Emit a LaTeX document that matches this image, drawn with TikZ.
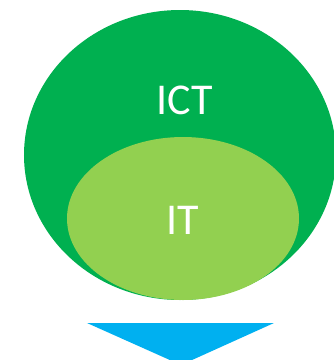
\documentclass[tikz,border=0pt]{standalone}
\usepackage{fontspec}
\setmainfont{Carlito}
\usetikzlibrary{shapes.geometric}
\definecolor{ictgreen}{HTML}{00B050}
\definecolor{itgreen}{HTML}{92D050}
\definecolor{arrowblue}{HTML}{00B0F0}

\begin{document}
\begin{tikzpicture}[x=1pt,y=-1pt,
		blobby/.style={ellipse,inner sep=0pt,draw=none},
		label/.style={text=white,font=\fontsize{44}{44}\selectfont}]
	\useasboundingbox (0,0) rectangle (334,360);
	\clip (0,0) rectangle (334,360);
	\node[blobby,fill=ictgreen,minimum width=312pt,minimum height=290pt] (ict) at (180,155) {};
	\node[blobby,fill=itgreen,minimum width=232pt,minimum height=163pt] (it) at (183,218.5) {};
	\node[label] (ictlab) at (185,100) {ICT};
	\node[label] (itlab) at (183,220) {IT};
	\fill[arrowblue] (87,323) -- (274,323) -- (181,365) -- cycle;
\end{tikzpicture}
\end{document}
